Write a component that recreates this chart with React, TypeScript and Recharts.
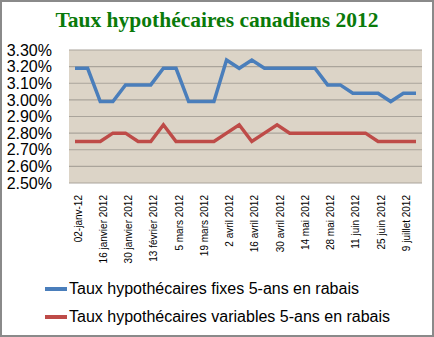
import React from "react";
import { LineChart, Line, XAxis, YAxis, CartesianGrid, Legend } from "recharts";

const categories = [
  "02-janv-12", "9 janvier 2012", "16 janvier 2012", "23 janvier 2012", "30 janvier 2012",
  "6 février 2012", "13 février 2012", "27 février 2012", "5 mars 2012", "12 mars 2012",
  "19 mars 2012", "26 mars 2012", "2 avril 2012", "9 avril 2012", "16 avril 2012",
  "23 avril 2012", "30 avril 2012", "7 mai 2012", "14 mai 2012", "21 mai 2012",
  "28 mai 2012", "4 juin 2012", "11 juin 2012", "18 juin 2012", "25 juin 2012",
  "2 juillet 2012", "9 juillet 2012", "16 juillet 2012",
];

const fixedRates = [
  3.19, 3.19, 2.99, 2.99, 3.09, 3.09, 3.09, 3.19, 3.19, 2.99,
  2.99, 2.99, 3.24, 3.19, 3.24, 3.19, 3.19, 3.19, 3.19, 3.19,
  3.09, 3.09, 3.04, 3.04, 3.04, 2.99, 3.04, 3.04,
];

const variableRates = [
  2.75, 2.75, 2.75, 2.80, 2.80, 2.75, 2.75, 2.85, 2.75, 2.75,
  2.75, 2.75, 2.80, 2.85, 2.75, 2.80, 2.85, 2.80, 2.80, 2.80,
  2.80, 2.80, 2.80, 2.80, 2.75, 2.75, 2.75, 2.75,
];

const yTicks = [2.5, 2.6, 2.7, 2.8, 2.9, 3.0, 3.1, 3.2, 3.3];

const seriesNames = [
  "Taux hypothécaires fixes 5-ans en rabais",
  "Taux hypothécaires variables 5-ans en rabais",
];
const title = "Taux hypothécaires canadiens 2012";

const data = categories.map((c, i) => ({
  date: c,
  fixe: fixedRates[i],
  variable: variableRates[i],
}));

const BLUE = "#4a7ebb";
const RED = "#be4b48";

const XTick = (props: any) => {
  const { x, y, payload } = props;
  return (
    <g transform={`translate(${x + 3},${y})`}>
      <text
        transform="rotate(-90)"
        textAnchor="end"
        dy="0.35em"
        fontSize={10}
        fontFamily="Liberation Sans, Arial, sans-serif"
        fill="#000"
      >
        {payload.value}
      </text>
    </g>
  );
};

const LegendContent = () => (
  <div style={{ height: 56, paddingLeft: 45, fontFamily: "Liberation Sans, Arial, sans-serif", fontSize: 16, color: "#000" }}>
    {[BLUE, RED].map((c, i) => (
      <div key={i} style={{ height: 28, display: "flex", alignItems: "center" }}>
        <span style={{ display: "inline-block", width: 22, height: 4, background: c, marginRight: 2 }} />
        <span style={{ whiteSpace: "nowrap" }}>{seriesNames[i]}</span>
      </div>
    ))}
  </div>
);

export default function App() {
  return (
    <div
      style={{
        position: "absolute",
        left: 0,
        top: 0,
        width: 434,
        height: 337,
        background: "#fff",
        boxSizing: "border-box",
      }}
    >
      <LineChart
        width={434}
        height={337}
        data={data}
        margin={{ top: 50, right: 12, bottom: 6, left: 0 }}
      >
        <CartesianGrid
          vertical={false}
          fill="#dcd4c7"
          stroke="#aaa49b"
          strokeWidth={1.2}
        />
        <XAxis
          dataKey="date"
          interval={1}
          height={92}
          tickSize={0}
          tickMargin={12}
          axisLine={false}
          tickLine={false}
          padding={{ left: 6, right: 6 }}
          tick={<XTick />}
        />
        <YAxis
          width={69}
          domain={[2.5, 3.3]}
          ticks={yTicks}
          interval={0}
          tickFormatter={(v: number) => `${v.toFixed(2)}%`}
          axisLine={false}
          tickLine={false}
          tickSize={0}
          tickMargin={17}
          tick={{ fontSize: 16, fill: "#000", fontFamily: "Liberation Sans, Arial, sans-serif" }}
        />
        <Legend verticalAlign="bottom" content={<LegendContent />} wrapperStyle={{ left: 0 }} />
        <Line
          type="linear"
          dataKey="fixe"
          name={seriesNames[0]}
          stroke={BLUE}
          strokeWidth={3.5}
          dot={false}
          isAnimationActive={false}
        />
        <Line
          type="linear"
          dataKey="variable"
          name={seriesNames[1]}
          stroke={RED}
          strokeWidth={3.5}
          dot={false}
          isAnimationActive={false}
        />
      </LineChart>
      <div
        style={{
          position: "absolute",
          left: 0,
          top: 6,
          width: 434,
          textAlign: "center",
          fontFamily: "Liberation Serif, Times New Roman, serif",
          fontWeight: "bold",
          fontSize: 21.5,
          color: "#0a7a0a",
          lineHeight: "28px",
        }}
      >
        {title}
      </div>
      <div
        style={{
          position: "absolute",
          left: 0,
          top: 0,
          width: 434,
          height: 337,
          boxSizing: "border-box",
          border: "2px solid #8a8a8a",
          pointerEvents: "none",
        }}
      />
    </div>
  );
}
